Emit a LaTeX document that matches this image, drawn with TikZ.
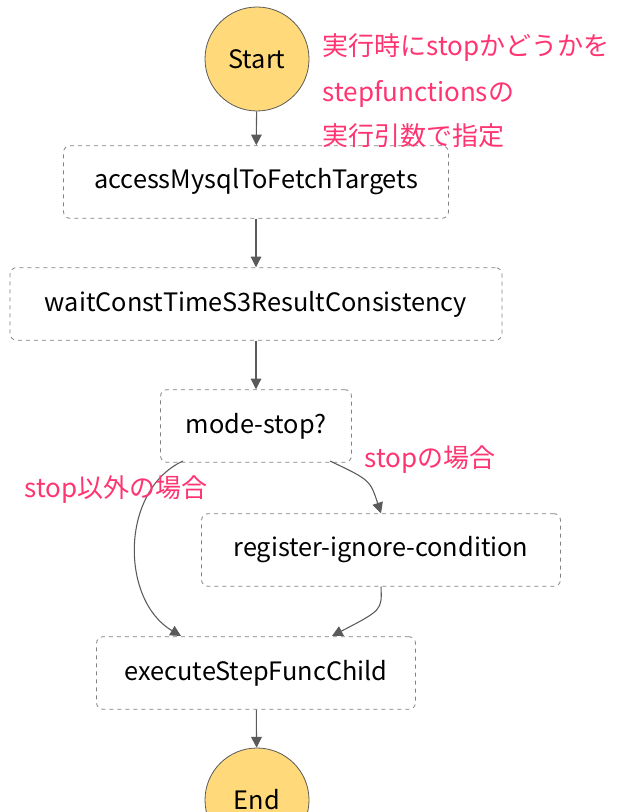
\documentclass[tikz,border=0pt]{standalone}
\usepackage{fontspec}
\setmainfont{Noto Sans CJK JP}
\usetikzlibrary{arrows.meta}
\definecolor{stateyellow}{HTML}{FFD97A}
\definecolor{notepink}{HTML}{FF3471}
\definecolor{flowgray}{HTML}{5A5A5A}
\tikzset{
  state/.style={draw=gray, dashed, semithick, rounded corners=5pt, fill=white,
    minimum height=54.5pt, font=\fontsize{19}{22}\selectfont},
  term/.style={circle, draw=flowgray, semithick, fill=stateyellow, minimum size=78pt,
    font=\fontsize{19}{22}\selectfont},
  flow/.style={draw=flowgray, thick, -{Triangle[length=8pt,width=8pt]}},
  note/.style={text=notepink, anchor=west, font=\fontsize{19.5}{22}\selectfont}
}
\begin{document}
\begin{tikzpicture}[x=0.75pt,y=-0.75pt]
  \useasboundingbox (0,0) rectangle (636,812);

  \node[term] (start) at (257,59) {Start};
  \node[state, minimum width=288.75pt] (fetch) at (256,182) {accessMysqlToFetchTargets};
  \node[state, minimum width=369pt] (wait) at (256,304) {waitConstTimeS3ResultConsistency};
  \node[state, minimum width=143.25pt] (mode) at (256,426) {mode-stop?};
  \node[state, minimum width=269.25pt] (ignore) at (381,550) {register-ignore-condition};
  \node[state, minimum width=239.25pt] (child) at (256,673) {executeStepFuncChild};
  \node[term] (end) at (257,800) {End};

  \coordinate (modeL) at (183,461);
  \coordinate (modeR) at (330,461);
  \coordinate (childL) at (181,636);
  \coordinate (childR) at (332,636);

  \draw[flow] (start) -- (fetch);
  \draw[flow] (fetch) -- (wait);
  \draw[flow] (wait) -- (mode);
  \draw[flow] (modeL) .. controls (120,490) and (120,600) .. (childL);
  \draw[flow] (modeR) .. controls (370,480) .. (ignore.north);
  \draw[flow] (ignore.south) .. controls (382,610) .. (childR);
  \draw[flow] (child) -- (end);

  \node[note] (n1) at (318,48) {実行時にstopかどうかを};
  \node[note] (n2) at (318,94) {stepfunctionsの};
  \node[note] (n3) at (318,136) {実行引数で指定};
  \node[note] (n4) at (360,460) {stopの場合};
  \node[note] (n5) at (20,490) {stop以外の場合};
\end{tikzpicture}
\end{document}
